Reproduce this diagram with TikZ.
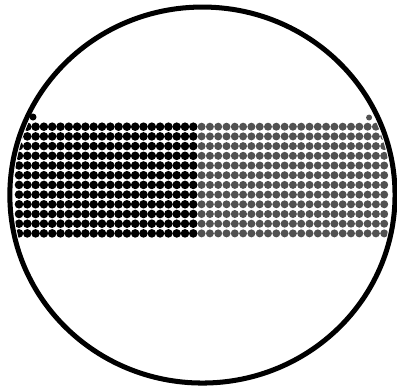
\documentclass[tikz,border=0pt]{standalone}
\usepackage{tkz-euclide}
\definecolor{DotClr}{gray}{0.32}
\tikzset{darkdot/.style={fill=black},
  greydot/.style={fill=DotClr}}

\begin{document}
\begin{tikzpicture}[scale=.035,yscale=-1]
\useasboundingbox (0,0) rectangle (397,389);

\tkzDefPoint(202.4,195){O}
\tkzDefPoint(33,117){P}
\tkzDefPoint(369,117.5){Q}

% grid of dots, cut off by the rim
\begin{scope}
\clip (O) ellipse [x radius=189, y radius=184.5];
\foreach \r in {0,...,11}{
  \foreach \c in {0,...,21}
    \fill[darkdot] ({19+8.3*\c},{126.7+9.7*\r}) circle [radius=4.3];
  \foreach \c in {22,...,44}
    \fill[greydot] ({19+8.3*\c},{126.7+9.7*\r}) circle [radius=4];
}
\end{scope}

\fill[darkdot] (P) circle [radius=3.5];
\fill[greydot] (Q) circle [radius=3];

\draw[line width=5pt,color=black] (O) ellipse [x radius=192.6, y radius=188];

\end{tikzpicture}
\end{document}
